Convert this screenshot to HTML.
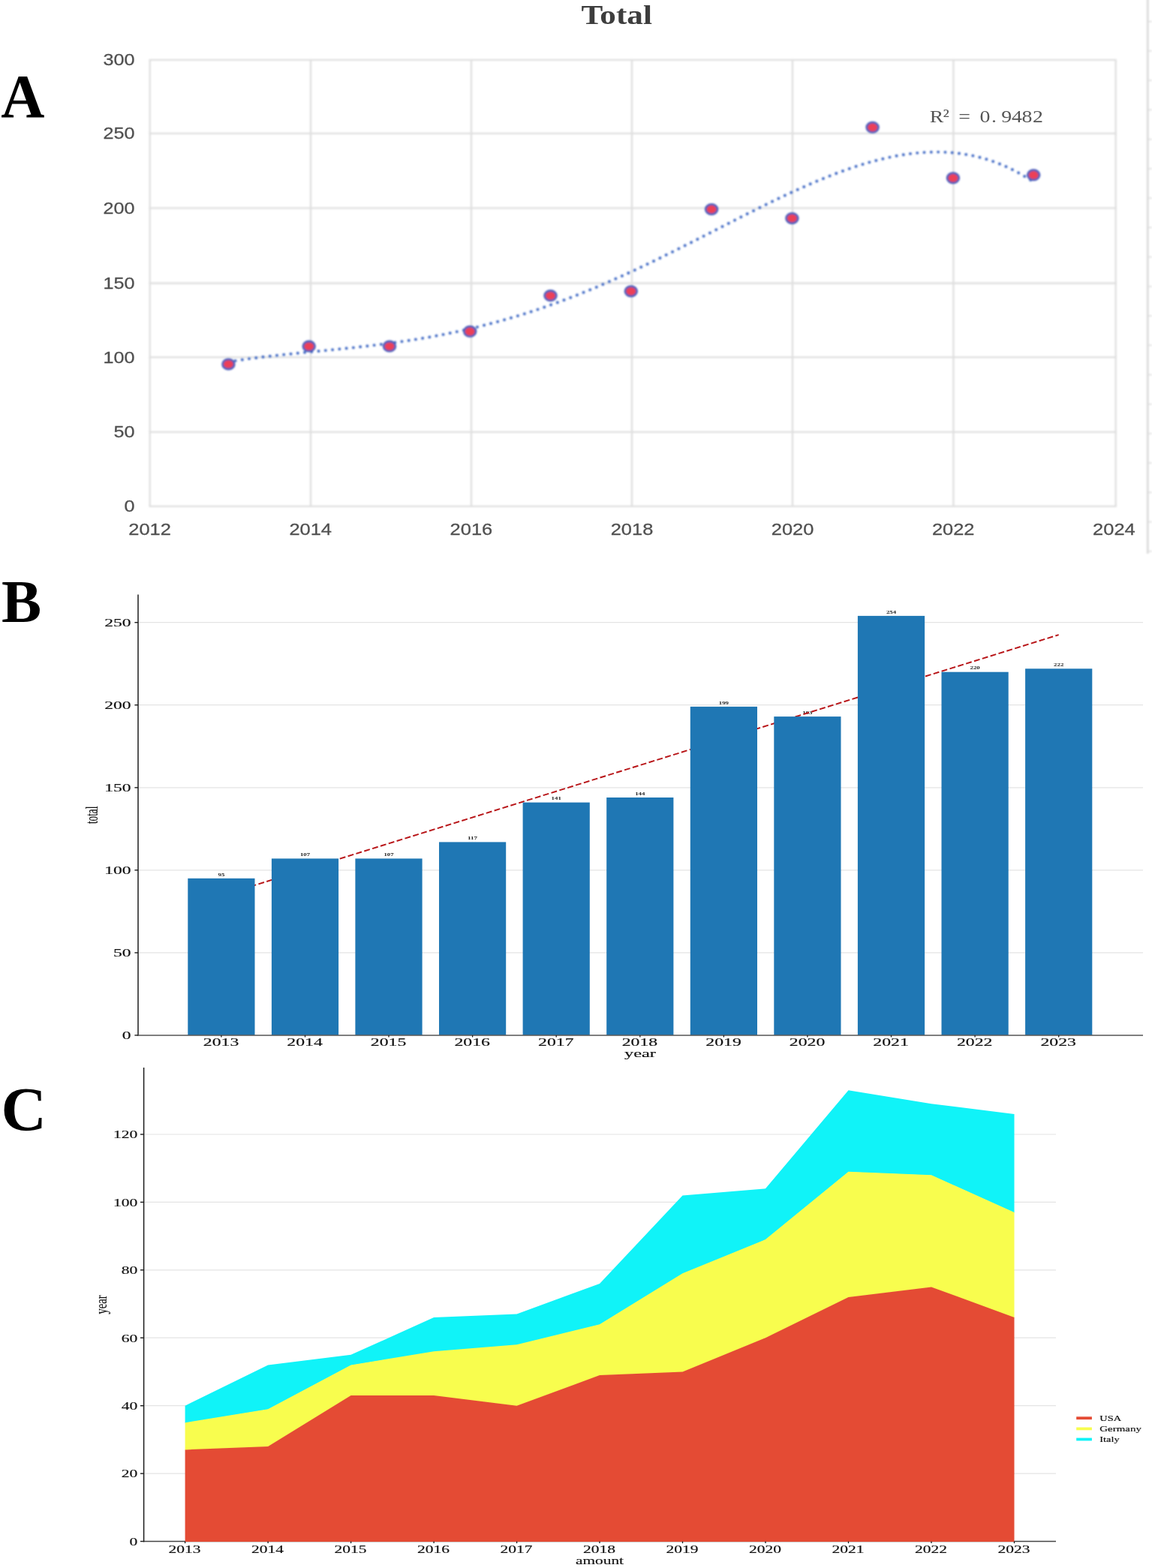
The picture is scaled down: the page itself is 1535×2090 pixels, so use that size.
<!DOCTYPE html>
<html lang="en"><head><meta charset="utf-8"><title>Total</title>
<style>
html,body{margin:0;padding:0;background:#fff;}
body{width:1535px;height:2090px;overflow:hidden;font-family:"Liberation Serif",serif;}
svg{display:block;}
</style></head><body>
<svg width="1535" height="2090" viewBox="0 0 1535 2090">
<defs><filter id="soft1" x="0" y="0" width="1535" height="760" filterUnits="userSpaceOnUse"><feGaussianBlur stdDeviation="0.95"/></filter><filter id="soft2" x="0" y="0" width="1535" height="760" filterUnits="userSpaceOnUse"><feGaussianBlur stdDeviation="0.6"/></filter></defs>
<rect width="1535" height="2090" fill="#fff"/>
<g filter="url(#soft1)">
<g stroke="#dcdcdc" fill="none">
<line x1="1529.3" y1="-5"  x2="1529.3" y2="738" stroke-width="2.8"/>
<line x1="1529" y1="28.7" x2="1535" y2="28.7" stroke-width="1.4"/>
<line x1="1529" y1="67.9" x2="1535" y2="67.9" stroke-width="1.4"/>
<line x1="1529" y1="107.2" x2="1535" y2="107.2" stroke-width="1.4"/>
<line x1="1529" y1="146.4" x2="1535" y2="146.4" stroke-width="1.4"/>
<line x1="1529" y1="185.6" x2="1535" y2="185.6" stroke-width="1.4"/>
<line x1="1529" y1="224.8" x2="1535" y2="224.8" stroke-width="1.4"/>
<line x1="1529" y1="264.1" x2="1535" y2="264.1" stroke-width="1.4"/>
<line x1="1529" y1="303.3" x2="1535" y2="303.3" stroke-width="1.4"/>
<line x1="1529" y1="342.5" x2="1535" y2="342.5" stroke-width="1.4"/>
<line x1="1529" y1="381.8" x2="1535" y2="381.8" stroke-width="1.4"/>
<line x1="1529" y1="421.0" x2="1535" y2="421.0" stroke-width="1.4"/>
<line x1="1529" y1="460.2" x2="1535" y2="460.2" stroke-width="1.4"/>
<line x1="1529" y1="499.5" x2="1535" y2="499.5" stroke-width="1.4"/>
<line x1="1529" y1="538.7" x2="1535" y2="538.7" stroke-width="1.4"/>
<line x1="1529" y1="577.9" x2="1535" y2="577.9" stroke-width="1.4"/>
<line x1="1529" y1="617.1" x2="1535" y2="617.1" stroke-width="1.4"/>
<line x1="1529" y1="656.4" x2="1535" y2="656.4" stroke-width="1.4"/>
<line x1="1529" y1="695.6" x2="1535" y2="695.6" stroke-width="1.4"/>
<line x1="1529" y1="734.8" x2="1535" y2="734.8" stroke-width="1.4"/>
</g>
<g stroke="#dfdfdf" stroke-width="2.3" fill="none">
<line x1="198.6" y1="674.80" x2="1487.8" y2="674.80"/>
<line x1="198.6" y1="575.90" x2="1487.8" y2="575.90"/>
<line x1="198.6" y1="476.10" x2="1487.8" y2="476.10"/>
<line x1="198.6" y1="377.50" x2="1487.8" y2="377.50"/>
<line x1="198.6" y1="277.40" x2="1487.8" y2="277.40"/>
<line x1="198.6" y1="177.80" x2="1487.8" y2="177.80"/>
<line x1="198.6" y1="79.90" x2="1487.8" y2="79.90"/>
<line x1="199.70" y1="79.9" x2="199.70" y2="674.8"/>
<line x1="414.00" y1="79.9" x2="414.00" y2="674.8"/>
<line x1="628.00" y1="79.9" x2="628.00" y2="674.8"/>
<line x1="842.00" y1="79.9" x2="842.00" y2="674.8"/>
<line x1="1056.00" y1="79.9" x2="1056.00" y2="674.8"/>
<line x1="1270.40" y1="79.9" x2="1270.40" y2="674.8"/>
<line x1="1486.70" y1="79.9" x2="1486.70" y2="674.8"/>
</g>
</g>
<g filter="url(#soft2)">
<text x="179.6" y="682.2" font-family="'Liberation Sans', sans-serif" font-size="22.8" font-weight="normal" fill="#505050" text-anchor="end" textLength="14.0" lengthAdjust="spacingAndGlyphs" stroke="#505050" stroke-width="0.3">0</text>
<text x="179.6" y="583.3" font-family="'Liberation Sans', sans-serif" font-size="22.8" font-weight="normal" fill="#505050" text-anchor="end" textLength="28.0" lengthAdjust="spacingAndGlyphs" stroke="#505050" stroke-width="0.3">50</text>
<text x="179.6" y="483.5" font-family="'Liberation Sans', sans-serif" font-size="22.8" font-weight="normal" fill="#505050" text-anchor="end" textLength="42.0" lengthAdjust="spacingAndGlyphs" stroke="#505050" stroke-width="0.3">100</text>
<text x="179.6" y="384.9" font-family="'Liberation Sans', sans-serif" font-size="22.8" font-weight="normal" fill="#505050" text-anchor="end" textLength="42.0" lengthAdjust="spacingAndGlyphs" stroke="#505050" stroke-width="0.3">150</text>
<text x="179.6" y="284.8" font-family="'Liberation Sans', sans-serif" font-size="22.8" font-weight="normal" fill="#505050" text-anchor="end" textLength="42.0" lengthAdjust="spacingAndGlyphs" stroke="#505050" stroke-width="0.3">200</text>
<text x="179.6" y="185.2" font-family="'Liberation Sans', sans-serif" font-size="22.8" font-weight="normal" fill="#505050" text-anchor="end" textLength="42.0" lengthAdjust="spacingAndGlyphs" stroke="#505050" stroke-width="0.3">250</text>
<text x="179.6" y="87.3" font-family="'Liberation Sans', sans-serif" font-size="22.8" font-weight="normal" fill="#505050" text-anchor="end" textLength="42.0" lengthAdjust="spacingAndGlyphs" stroke="#505050" stroke-width="0.3">300</text>
<text x="199.6" y="713.1" font-family="'Liberation Sans', sans-serif" font-size="22.8" font-weight="normal" fill="#505050" text-anchor="middle" textLength="56.6" lengthAdjust="spacingAndGlyphs" stroke="#505050" stroke-width="0.3">2012</text>
<text x="413.7" y="713.1" font-family="'Liberation Sans', sans-serif" font-size="22.8" font-weight="normal" fill="#505050" text-anchor="middle" textLength="56.6" lengthAdjust="spacingAndGlyphs" stroke="#505050" stroke-width="0.3">2014</text>
<text x="627.9" y="713.1" font-family="'Liberation Sans', sans-serif" font-size="22.8" font-weight="normal" fill="#505050" text-anchor="middle" textLength="56.6" lengthAdjust="spacingAndGlyphs" stroke="#505050" stroke-width="0.3">2016</text>
<text x="842.0" y="713.1" font-family="'Liberation Sans', sans-serif" font-size="22.8" font-weight="normal" fill="#505050" text-anchor="middle" textLength="56.6" lengthAdjust="spacingAndGlyphs" stroke="#505050" stroke-width="0.3">2018</text>
<text x="1056.1" y="713.1" font-family="'Liberation Sans', sans-serif" font-size="22.8" font-weight="normal" fill="#505050" text-anchor="middle" textLength="56.6" lengthAdjust="spacingAndGlyphs" stroke="#505050" stroke-width="0.3">2020</text>
<text x="1270.2" y="713.1" font-family="'Liberation Sans', sans-serif" font-size="22.8" font-weight="normal" fill="#505050" text-anchor="middle" textLength="56.6" lengthAdjust="spacingAndGlyphs" stroke="#505050" stroke-width="0.3">2022</text>
<text x="1484.4" y="713.1" font-family="'Liberation Sans', sans-serif" font-size="22.8" font-weight="normal" fill="#505050" text-anchor="middle" textLength="56.6" lengthAdjust="spacingAndGlyphs" stroke="#505050" stroke-width="0.3">2024</text>
<text x="774.5" y="31.7" font-family="'Liberation Serif', serif" font-size="35.6" font-weight="bold" fill="#3c3c3c" text-anchor="start" textLength="94.5" lengthAdjust="spacingAndGlyphs">Total</text>
<g transform="translate(1241,0) scale(1.16,1)"><text x="6.03 16.90 27.16 38.02 49.57 61.64 71.98 86.38 98.19 109.91 122.33" y="163.4" font-family="'Liberation Serif', serif" font-size="24" fill="#555" text-anchor="middle">R² = 0.9482</text></g>
</g>
<g filter="url(#soft1)">
<polyline points="304.4,482.4 308.0,481.8 311.6,481.2 315.2,480.6 318.8,480.1 322.3,479.6 325.9,479.0 329.5,478.5 333.1,478.0 336.7,477.6 340.3,477.1 343.9,476.6 347.5,476.2 351.0,475.7 354.6,475.3 358.2,474.9 361.8,474.5 365.4,474.1 369.0,473.7 372.6,473.3 376.2,472.9 379.7,472.5 383.3,472.1 386.9,471.8 390.5,471.4 394.1,471.0 397.7,470.7 401.3,470.3 404.9,469.9 408.5,469.6 412.0,469.2 415.6,468.9 419.2,468.5 422.8,468.2 426.4,467.8 430.0,467.5 433.6,467.1 437.2,466.8 440.7,466.4 444.3,466.1 447.9,465.7 451.5,465.3 455.1,465.0 458.7,464.6 462.3,464.2 465.9,463.8 469.4,463.5 473.0,463.1 476.6,462.7 480.2,462.3 483.8,461.9 487.4,461.5 491.0,461.1 494.6,460.6 498.1,460.2 501.7,459.8 505.3,459.3 508.9,458.9 512.5,458.4 516.1,457.9 519.7,457.5 523.3,457.0 526.9,456.5 530.4,456.0 534.0,455.4 537.6,454.9 541.2,454.4 544.8,453.8 548.4,453.3 552.0,452.7 555.6,452.1 559.1,451.5 562.7,450.9 566.3,450.3 569.9,449.7 573.5,449.1 577.1,448.4 580.7,447.7 584.3,447.1 587.8,446.4 591.4,445.7 595.0,445.0 598.6,444.2 602.2,443.5 605.8,442.8 609.4,442.0 613.0,441.2 616.6,440.4 620.1,439.6 623.7,438.8 627.3,437.9 630.9,437.1 634.5,436.2 638.1,435.4 641.7,434.5 645.3,433.5 648.8,432.6 652.4,431.7 656.0,430.7 659.6,429.8 663.2,428.8 666.8,427.8 670.4,426.8 674.0,425.8 677.5,424.7 681.1,423.7 684.7,422.6 688.3,421.5 691.9,420.4 695.5,419.3 699.1,418.2 702.7,417.0 706.3,415.9 709.8,414.7 713.4,413.5 717.0,412.3 720.6,411.1 724.2,409.8 727.8,408.6 731.4,407.3 735.0,406.0 738.5,404.7 742.1,403.4 745.7,402.1 749.3,400.8 752.9,399.4 756.5,398.1 760.1,396.7 763.7,395.3 767.2,393.9 770.8,392.5 774.4,391.0 778.0,389.6 781.6,388.1 785.2,386.7 788.8,385.2 792.4,383.7 796.0,382.2 799.5,380.6 803.1,379.1 806.7,377.5 810.3,376.0 813.9,374.4 817.5,372.8 821.1,371.2 824.7,369.6 828.2,368.0 831.8,366.4 835.4,364.7 839.0,363.1 842.6,361.4 846.2,359.8 849.8,358.1 853.4,356.4 856.9,354.7 860.5,353.0 864.1,351.3 867.7,349.5 871.3,347.8 874.9,346.1 878.5,344.3 882.1,342.6 885.6,340.8 889.2,339.0 892.8,337.3 896.4,335.5 900.0,333.7 903.6,331.9 907.2,330.1 910.8,328.3 914.4,326.5 917.9,324.7 921.5,322.9 925.1,321.0 928.7,319.2 932.3,317.4 935.9,315.6 939.5,313.7 943.1,311.9 946.6,310.1 950.2,308.2 953.8,306.4 957.4,304.6 961.0,302.7 964.6,300.9 968.2,299.1 971.8,297.2 975.3,295.4 978.9,293.6 982.5,291.8 986.1,289.9 989.7,288.1 993.3,286.3 996.9,284.5 1000.5,282.7 1004.1,280.9 1007.6,279.1 1011.2,277.3 1014.8,275.5 1018.4,273.8 1022.0,272.0 1025.6,270.3 1029.2,268.5 1032.8,266.8 1036.3,265.0 1039.9,263.3 1043.5,261.6 1047.1,259.9 1050.7,258.3 1054.3,256.6 1057.9,254.9 1061.5,253.3 1065.0,251.7 1068.6,250.1 1072.2,248.5 1075.8,246.9 1079.4,245.3 1083.0,243.8 1086.6,242.2 1090.2,240.7 1093.8,239.2 1097.3,237.8 1100.9,236.3 1104.5,234.9 1108.1,233.5 1111.7,232.1 1115.3,230.7 1118.9,229.4 1122.5,228.1 1126.0,226.8 1129.6,225.5 1133.2,224.3 1136.8,223.1 1140.4,221.9 1144.0,220.7 1147.6,219.6 1151.2,218.5 1154.7,217.4 1158.3,216.4 1161.9,215.4 1165.5,214.4 1169.1,213.5 1172.7,212.5 1176.3,211.7 1179.9,210.8 1183.5,210.0 1187.0,209.3 1190.6,208.5 1194.2,207.8 1197.8,207.2 1201.4,206.6 1205.0,206.0 1208.6,205.5 1212.2,205.0 1215.7,204.5 1219.3,204.1 1222.9,203.8 1226.5,203.5 1230.1,203.2 1233.7,203.0 1237.3,202.8 1240.9,202.7 1244.4,202.6 1248.0,202.6 1251.6,202.6 1255.2,202.7 1258.8,202.8 1262.4,203.0 1266.0,203.3 1269.6,203.6 1273.1,203.9 1276.7,204.3 1280.3,204.8 1283.9,205.3 1287.5,205.9 1291.1,206.5 1294.7,207.2 1298.3,208.0 1301.9,208.8 1305.4,209.7 1309.0,210.7 1312.6,211.7 1316.2,212.8 1319.8,214.0 1323.4,215.2 1327.0,216.5 1330.6,217.9 1334.1,219.3 1337.7,220.8 1341.3,222.4 1344.9,224.1 1348.5,225.8 1352.1,227.7 1355.7,229.6 1359.3,231.5 1362.8,233.6 1366.4,235.7 1370.0,237.9 1373.6,240.2 1377.2,242.6" fill="none" stroke="#3f69c4" stroke-width="3.9" stroke-linecap="round" stroke-dasharray="0.01 9.3"/>
<ellipse cx="304.4" cy="485.4" rx="7.8" ry="6.6" fill="#ec3f58" stroke="#4a5cba" stroke-width="2.8"/>
<ellipse cx="411.7" cy="461.6" rx="7.8" ry="6.6" fill="#ec3f58" stroke="#4a5cba" stroke-width="2.8"/>
<ellipse cx="519.0" cy="461.6" rx="7.8" ry="6.6" fill="#ec3f58" stroke="#4a5cba" stroke-width="2.8"/>
<ellipse cx="626.2" cy="441.8" rx="7.8" ry="6.6" fill="#ec3f58" stroke="#4a5cba" stroke-width="2.8"/>
<ellipse cx="733.5" cy="394.1" rx="7.8" ry="6.6" fill="#ec3f58" stroke="#4a5cba" stroke-width="2.8"/>
<ellipse cx="840.8" cy="388.2" rx="7.8" ry="6.6" fill="#ec3f58" stroke="#4a5cba" stroke-width="2.8"/>
<ellipse cx="948.1" cy="279.0" rx="7.8" ry="6.6" fill="#ec3f58" stroke="#4a5cba" stroke-width="2.8"/>
<ellipse cx="1055.4" cy="290.9" rx="7.8" ry="6.6" fill="#ec3f58" stroke="#4a5cba" stroke-width="2.8"/>
<ellipse cx="1162.6" cy="169.8" rx="7.8" ry="6.6" fill="#ec3f58" stroke="#4a5cba" stroke-width="2.8"/>
<ellipse cx="1269.9" cy="237.3" rx="7.8" ry="6.6" fill="#ec3f58" stroke="#4a5cba" stroke-width="2.8"/>
<ellipse cx="1377.2" cy="233.3" rx="7.8" ry="6.6" fill="#ec3f58" stroke="#4a5cba" stroke-width="2.8"/>
</g>
<text x="1.2" y="156.4" font-family="'Liberation Serif', serif" font-size="82" font-weight="bold" fill="#000" text-anchor="start" textLength="58.2" lengthAdjust="spacingAndGlyphs">A</text>
<text x="2.0" y="828.8" font-family="'Liberation Serif', serif" font-size="81" font-weight="bold" fill="#000" text-anchor="start" textLength="53.2" lengthAdjust="spacingAndGlyphs">B</text>
<text x="1.6" y="1506.4" font-family="'Liberation Serif', serif" font-size="82.5" font-weight="bold" fill="#000" text-anchor="start" textLength="60.4" lengthAdjust="spacingAndGlyphs">C</text>
<line x1="184.0" y1="1269.9" x2="1523" y2="1269.9" stroke="#e4e4e4" stroke-width="1.2"/>
<line x1="184.0" y1="1159.8" x2="1523" y2="1159.8" stroke="#e4e4e4" stroke-width="1.2"/>
<line x1="184.0" y1="1049.8" x2="1523" y2="1049.8" stroke="#e4e4e4" stroke-width="1.2"/>
<line x1="184.0" y1="939.7" x2="1523" y2="939.7" stroke="#e4e4e4" stroke-width="1.2"/>
<line x1="184.0" y1="829.7" x2="1523" y2="829.7" stroke="#e4e4e4" stroke-width="1.2"/>
<text x="294.9" y="1167.5" font-family="'Liberation Serif', serif" font-size="5.6" font-weight="bold" fill="#222" text-anchor="middle" textLength="8.8" lengthAdjust="spacingAndGlyphs">95</text>
<text x="406.5" y="1141.1" font-family="'Liberation Serif', serif" font-size="5.6" font-weight="bold" fill="#222" text-anchor="middle" textLength="13.2" lengthAdjust="spacingAndGlyphs">107</text>
<text x="518.0" y="1141.1" font-family="'Liberation Serif', serif" font-size="5.6" font-weight="bold" fill="#222" text-anchor="middle" textLength="13.2" lengthAdjust="spacingAndGlyphs">107</text>
<text x="629.6" y="1119.1" font-family="'Liberation Serif', serif" font-size="5.6" font-weight="bold" fill="#222" text-anchor="middle" textLength="13.2" lengthAdjust="spacingAndGlyphs">117</text>
<text x="741.2" y="1066.3" font-family="'Liberation Serif', serif" font-size="5.6" font-weight="bold" fill="#222" text-anchor="middle" textLength="13.2" lengthAdjust="spacingAndGlyphs">141</text>
<text x="852.8" y="1059.7" font-family="'Liberation Serif', serif" font-size="5.6" font-weight="bold" fill="#222" text-anchor="middle" textLength="13.2" lengthAdjust="spacingAndGlyphs">144</text>
<text x="964.4" y="938.6" font-family="'Liberation Serif', serif" font-size="5.6" font-weight="bold" fill="#222" text-anchor="middle" textLength="13.2" lengthAdjust="spacingAndGlyphs">199</text>
<text x="1075.9" y="951.8" font-family="'Liberation Serif', serif" font-size="5.6" font-weight="bold" fill="#222" text-anchor="middle" textLength="13.2" lengthAdjust="spacingAndGlyphs">193</text>
<text x="1187.5" y="817.6" font-family="'Liberation Serif', serif" font-size="5.6" font-weight="bold" fill="#222" text-anchor="middle" textLength="13.2" lengthAdjust="spacingAndGlyphs">254</text>
<text x="1299.1" y="892.4" font-family="'Liberation Serif', serif" font-size="5.6" font-weight="bold" fill="#222" text-anchor="middle" textLength="13.2" lengthAdjust="spacingAndGlyphs">220</text>
<text x="1410.7" y="888.0" font-family="'Liberation Serif', serif" font-size="5.6" font-weight="bold" fill="#222" text-anchor="middle" textLength="13.2" lengthAdjust="spacingAndGlyphs">222</text>
<line x1="294.9" y1="1193.8" x2="1410.7" y2="846.1" stroke="#b81518" stroke-width="1.95" stroke-dasharray="7.9 3.45" stroke-dashoffset="4.9"/>
<rect x="250.3" y="1170.8" width="89.2" height="209.1" fill="#1f77b4"/>
<rect x="361.9" y="1144.4" width="89.2" height="235.5" fill="#1f77b4"/>
<rect x="473.4" y="1144.4" width="89.2" height="235.5" fill="#1f77b4"/>
<rect x="585.0" y="1122.4" width="89.2" height="257.5" fill="#1f77b4"/>
<rect x="696.6" y="1069.6" width="89.2" height="310.3" fill="#1f77b4"/>
<rect x="808.2" y="1063.0" width="89.2" height="316.9" fill="#1f77b4"/>
<rect x="919.8" y="941.9" width="89.2" height="438.0" fill="#1f77b4"/>
<rect x="1031.3" y="955.1" width="89.2" height="424.8" fill="#1f77b4"/>
<rect x="1142.9" y="820.9" width="89.2" height="559.0" fill="#1f77b4"/>
<rect x="1254.5" y="895.7" width="89.2" height="484.2" fill="#1f77b4"/>
<rect x="1366.1" y="891.3" width="89.2" height="488.6" fill="#1f77b4"/>
<line x1="184.0" y1="792.4" x2="184.0" y2="1380.6000000000001" stroke="#1c1c1c" stroke-width="1.5"/>
<line x1="183.3" y1="1379.9" x2="1523" y2="1379.9" stroke="#555" stroke-width="1.5"/>
<line x1="179.4" y1="1379.9" x2="184.0" y2="1379.9" stroke="#1c1c1c" stroke-width="1.4"/>
<text x="174.6" y="1385.2" font-family="'Liberation Serif', serif" font-size="14.3" font-weight="normal" fill="#111" text-anchor="end" textLength="11.8" lengthAdjust="spacingAndGlyphs" stroke="#111" stroke-width="0.16">0</text>
<line x1="179.4" y1="1269.9" x2="184.0" y2="1269.9" stroke="#1c1c1c" stroke-width="1.4"/>
<text x="174.6" y="1275.2" font-family="'Liberation Serif', serif" font-size="14.3" font-weight="normal" fill="#111" text-anchor="end" textLength="23.6" lengthAdjust="spacingAndGlyphs" stroke="#111" stroke-width="0.16">50</text>
<line x1="179.4" y1="1159.8" x2="184.0" y2="1159.8" stroke="#1c1c1c" stroke-width="1.4"/>
<text x="174.6" y="1165.1" font-family="'Liberation Serif', serif" font-size="14.3" font-weight="normal" fill="#111" text-anchor="end" textLength="35.4" lengthAdjust="spacingAndGlyphs" stroke="#111" stroke-width="0.16">100</text>
<line x1="179.4" y1="1049.8" x2="184.0" y2="1049.8" stroke="#1c1c1c" stroke-width="1.4"/>
<text x="174.6" y="1055.1" font-family="'Liberation Serif', serif" font-size="14.3" font-weight="normal" fill="#111" text-anchor="end" textLength="35.4" lengthAdjust="spacingAndGlyphs" stroke="#111" stroke-width="0.16">150</text>
<line x1="179.4" y1="939.7" x2="184.0" y2="939.7" stroke="#1c1c1c" stroke-width="1.4"/>
<text x="174.6" y="945.0" font-family="'Liberation Serif', serif" font-size="14.3" font-weight="normal" fill="#111" text-anchor="end" textLength="35.4" lengthAdjust="spacingAndGlyphs" stroke="#111" stroke-width="0.16">200</text>
<line x1="179.4" y1="829.7" x2="184.0" y2="829.7" stroke="#1c1c1c" stroke-width="1.4"/>
<text x="174.6" y="835.0" font-family="'Liberation Serif', serif" font-size="14.3" font-weight="normal" fill="#111" text-anchor="end" textLength="35.4" lengthAdjust="spacingAndGlyphs" stroke="#111" stroke-width="0.16">250</text>
<line x1="294.9" y1="1379.9" x2="294.9" y2="1382.5" stroke="#1c1c1c" stroke-width="1.3"/>
<text x="294.5" y="1394.2" font-family="'Liberation Serif', serif" font-size="14.4" font-weight="normal" fill="#111" text-anchor="middle" textLength="47.5" lengthAdjust="spacingAndGlyphs" stroke="#111" stroke-width="0.16">2013</text>
<line x1="406.5" y1="1379.9" x2="406.5" y2="1382.5" stroke="#1c1c1c" stroke-width="1.3"/>
<text x="406.1" y="1394.2" font-family="'Liberation Serif', serif" font-size="14.4" font-weight="normal" fill="#111" text-anchor="middle" textLength="47.5" lengthAdjust="spacingAndGlyphs" stroke="#111" stroke-width="0.16">2014</text>
<line x1="518.0" y1="1379.9" x2="518.0" y2="1382.5" stroke="#1c1c1c" stroke-width="1.3"/>
<text x="517.6" y="1394.2" font-family="'Liberation Serif', serif" font-size="14.4" font-weight="normal" fill="#111" text-anchor="middle" textLength="47.5" lengthAdjust="spacingAndGlyphs" stroke="#111" stroke-width="0.16">2015</text>
<line x1="629.6" y1="1379.9" x2="629.6" y2="1382.5" stroke="#1c1c1c" stroke-width="1.3"/>
<text x="629.2" y="1394.2" font-family="'Liberation Serif', serif" font-size="14.4" font-weight="normal" fill="#111" text-anchor="middle" textLength="47.5" lengthAdjust="spacingAndGlyphs" stroke="#111" stroke-width="0.16">2016</text>
<line x1="741.2" y1="1379.9" x2="741.2" y2="1382.5" stroke="#1c1c1c" stroke-width="1.3"/>
<text x="740.8" y="1394.2" font-family="'Liberation Serif', serif" font-size="14.4" font-weight="normal" fill="#111" text-anchor="middle" textLength="47.5" lengthAdjust="spacingAndGlyphs" stroke="#111" stroke-width="0.16">2017</text>
<line x1="852.8" y1="1379.9" x2="852.8" y2="1382.5" stroke="#1c1c1c" stroke-width="1.3"/>
<text x="852.4" y="1394.2" font-family="'Liberation Serif', serif" font-size="14.4" font-weight="normal" fill="#111" text-anchor="middle" textLength="47.5" lengthAdjust="spacingAndGlyphs" stroke="#111" stroke-width="0.16">2018</text>
<line x1="964.4" y1="1379.9" x2="964.4" y2="1382.5" stroke="#1c1c1c" stroke-width="1.3"/>
<text x="964.0" y="1394.2" font-family="'Liberation Serif', serif" font-size="14.4" font-weight="normal" fill="#111" text-anchor="middle" textLength="47.5" lengthAdjust="spacingAndGlyphs" stroke="#111" stroke-width="0.16">2019</text>
<line x1="1075.9" y1="1379.9" x2="1075.9" y2="1382.5" stroke="#1c1c1c" stroke-width="1.3"/>
<text x="1075.5" y="1394.2" font-family="'Liberation Serif', serif" font-size="14.4" font-weight="normal" fill="#111" text-anchor="middle" textLength="47.5" lengthAdjust="spacingAndGlyphs" stroke="#111" stroke-width="0.16">2020</text>
<line x1="1187.5" y1="1379.9" x2="1187.5" y2="1382.5" stroke="#1c1c1c" stroke-width="1.3"/>
<text x="1187.1" y="1394.2" font-family="'Liberation Serif', serif" font-size="14.4" font-weight="normal" fill="#111" text-anchor="middle" textLength="47.5" lengthAdjust="spacingAndGlyphs" stroke="#111" stroke-width="0.16">2021</text>
<line x1="1299.1" y1="1379.9" x2="1299.1" y2="1382.5" stroke="#1c1c1c" stroke-width="1.3"/>
<text x="1298.7" y="1394.2" font-family="'Liberation Serif', serif" font-size="14.4" font-weight="normal" fill="#111" text-anchor="middle" textLength="47.5" lengthAdjust="spacingAndGlyphs" stroke="#111" stroke-width="0.16">2022</text>
<line x1="1410.7" y1="1379.9" x2="1410.7" y2="1382.5" stroke="#1c1c1c" stroke-width="1.3"/>
<text x="1410.2" y="1394.2" font-family="'Liberation Serif', serif" font-size="14.4" font-weight="normal" fill="#111" text-anchor="middle" textLength="47.5" lengthAdjust="spacingAndGlyphs" stroke="#111" stroke-width="0.16">2023</text>
<text x="853" y="1408.9" font-family="'Liberation Serif', serif" font-size="14.6" font-weight="normal" fill="#111" text-anchor="middle" textLength="42" lengthAdjust="spacingAndGlyphs" stroke="#111" stroke-width="0.16">year</text>
<g transform="translate(129.6,1086.4) rotate(-90)">
<text x="0" y="0" font-family="'Liberation Serif', serif" font-size="23.5" font-weight="normal" fill="#111" text-anchor="middle" textLength="23.4" lengthAdjust="spacingAndGlyphs" stroke="#111" stroke-width="0.16">total</text>
</g>
<line x1="191.6" y1="1964.1" x2="1407" y2="1964.1" stroke="#e4e4e4" stroke-width="1.2"/>
<line x1="191.6" y1="1873.7" x2="1407" y2="1873.7" stroke="#e4e4e4" stroke-width="1.2"/>
<line x1="191.6" y1="1783.2" x2="1407" y2="1783.2" stroke="#e4e4e4" stroke-width="1.2"/>
<line x1="191.6" y1="1692.8" x2="1407" y2="1692.8" stroke="#e4e4e4" stroke-width="1.2"/>
<line x1="191.6" y1="1602.4" x2="1407" y2="1602.4" stroke="#e4e4e4" stroke-width="1.2"/>
<line x1="191.6" y1="1512.0" x2="1407" y2="1512.0" stroke="#e4e4e4" stroke-width="1.2"/>
<line x1="190.9" y1="2054.5" x2="1407" y2="2054.5" stroke="#444" stroke-width="1.4"/>
<polygon points="246.6,1873.7 357.1,1819.4 467.6,1805.8 578.1,1756.1 688.6,1751.6 799.0,1710.9 909.5,1593.4 1020.0,1584.3 1130.5,1453.2 1241.0,1471.3 1351.5,1484.9 1351.5,1616.6 1241.0,1566.8 1130.5,1562.3 1020.0,1652.7 909.5,1697.9 799.0,1765.8 688.6,1792.9 578.1,1801.9 467.6,1820.0 357.1,1878.8 246.6,1896.9" fill="#10f3f8"/>
<polygon points="246.6,1896.3 357.1,1878.2 467.6,1819.4 578.1,1801.3 688.6,1792.3 799.0,1765.2 909.5,1697.3 1020.0,1652.1 1130.5,1561.7 1241.0,1566.2 1351.5,1616.0 1351.5,1756.7 1241.0,1716.0 1130.5,1729.6 1020.0,1783.8 909.5,1829.0 799.0,1833.6 688.6,1874.3 578.1,1860.7 467.6,1860.7 357.1,1928.5 246.6,1933.0" fill="#f8fd4e"/>
<polygon points="246.6,1932.4 357.1,1927.9 467.6,1860.1 578.1,1860.1 688.6,1873.7 799.0,1833.0 909.5,1828.5 1020.0,1783.2 1130.5,1729.0 1241.0,1715.4 1351.5,1756.1 1351.5,2054.9 1241.0,2054.9 1130.5,2054.9 1020.0,2054.9 909.5,2054.9 799.0,2054.9 688.6,2054.9 578.1,2054.9 467.6,2054.9 357.1,2054.9 246.6,2054.9" fill="#e44b34"/>
<line x1="191.6" y1="1423.0" x2="191.6" y2="2055.2" stroke="#1c1c1c" stroke-width="1.5"/>
<line x1="187.0" y1="2054.5" x2="191.6" y2="2054.5" stroke="#1c1c1c" stroke-width="1.4"/>
<text x="183.3" y="2059.8" font-family="'Liberation Serif', serif" font-size="14.3" font-weight="normal" fill="#111" text-anchor="end" textLength="10.8" lengthAdjust="spacingAndGlyphs" stroke="#111" stroke-width="0.16">0</text>
<line x1="187.0" y1="1964.1" x2="191.6" y2="1964.1" stroke="#1c1c1c" stroke-width="1.4"/>
<text x="183.3" y="1969.4" font-family="'Liberation Serif', serif" font-size="14.3" font-weight="normal" fill="#111" text-anchor="end" textLength="21.6" lengthAdjust="spacingAndGlyphs" stroke="#111" stroke-width="0.16">20</text>
<line x1="187.0" y1="1873.7" x2="191.6" y2="1873.7" stroke="#1c1c1c" stroke-width="1.4"/>
<text x="183.3" y="1879.0" font-family="'Liberation Serif', serif" font-size="14.3" font-weight="normal" fill="#111" text-anchor="end" textLength="21.6" lengthAdjust="spacingAndGlyphs" stroke="#111" stroke-width="0.16">40</text>
<line x1="187.0" y1="1783.2" x2="191.6" y2="1783.2" stroke="#1c1c1c" stroke-width="1.4"/>
<text x="183.3" y="1788.5" font-family="'Liberation Serif', serif" font-size="14.3" font-weight="normal" fill="#111" text-anchor="end" textLength="21.6" lengthAdjust="spacingAndGlyphs" stroke="#111" stroke-width="0.16">60</text>
<line x1="187.0" y1="1692.8" x2="191.6" y2="1692.8" stroke="#1c1c1c" stroke-width="1.4"/>
<text x="183.3" y="1698.1" font-family="'Liberation Serif', serif" font-size="14.3" font-weight="normal" fill="#111" text-anchor="end" textLength="21.6" lengthAdjust="spacingAndGlyphs" stroke="#111" stroke-width="0.16">80</text>
<line x1="187.0" y1="1602.4" x2="191.6" y2="1602.4" stroke="#1c1c1c" stroke-width="1.4"/>
<text x="183.3" y="1607.7" font-family="'Liberation Serif', serif" font-size="14.3" font-weight="normal" fill="#111" text-anchor="end" textLength="32.4" lengthAdjust="spacingAndGlyphs" stroke="#111" stroke-width="0.16">100</text>
<line x1="187.0" y1="1512.0" x2="191.6" y2="1512.0" stroke="#1c1c1c" stroke-width="1.4"/>
<text x="183.3" y="1517.3" font-family="'Liberation Serif', serif" font-size="14.3" font-weight="normal" fill="#111" text-anchor="end" textLength="32.4" lengthAdjust="spacingAndGlyphs" stroke="#111" stroke-width="0.16">120</text>
<line x1="246.6" y1="2054.5" x2="246.6" y2="2057.1" stroke="#1c1c1c" stroke-width="1.3"/>
<text x="246.0" y="2069.5" font-family="'Liberation Serif', serif" font-size="14.3" font-weight="normal" fill="#111" text-anchor="middle" textLength="43" lengthAdjust="spacingAndGlyphs" stroke="#111" stroke-width="0.16">2013</text>
<line x1="357.1" y1="2054.5" x2="357.1" y2="2057.1" stroke="#1c1c1c" stroke-width="1.3"/>
<text x="356.5" y="2069.5" font-family="'Liberation Serif', serif" font-size="14.3" font-weight="normal" fill="#111" text-anchor="middle" textLength="43" lengthAdjust="spacingAndGlyphs" stroke="#111" stroke-width="0.16">2014</text>
<line x1="467.6" y1="2054.5" x2="467.6" y2="2057.1" stroke="#1c1c1c" stroke-width="1.3"/>
<text x="467.0" y="2069.5" font-family="'Liberation Serif', serif" font-size="14.3" font-weight="normal" fill="#111" text-anchor="middle" textLength="43" lengthAdjust="spacingAndGlyphs" stroke="#111" stroke-width="0.16">2015</text>
<line x1="578.1" y1="2054.5" x2="578.1" y2="2057.1" stroke="#1c1c1c" stroke-width="1.3"/>
<text x="577.5" y="2069.5" font-family="'Liberation Serif', serif" font-size="14.3" font-weight="normal" fill="#111" text-anchor="middle" textLength="43" lengthAdjust="spacingAndGlyphs" stroke="#111" stroke-width="0.16">2016</text>
<line x1="688.6" y1="2054.5" x2="688.6" y2="2057.1" stroke="#1c1c1c" stroke-width="1.3"/>
<text x="688.0" y="2069.5" font-family="'Liberation Serif', serif" font-size="14.3" font-weight="normal" fill="#111" text-anchor="middle" textLength="43" lengthAdjust="spacingAndGlyphs" stroke="#111" stroke-width="0.16">2017</text>
<line x1="799.0" y1="2054.5" x2="799.0" y2="2057.1" stroke="#1c1c1c" stroke-width="1.3"/>
<text x="798.4" y="2069.5" font-family="'Liberation Serif', serif" font-size="14.3" font-weight="normal" fill="#111" text-anchor="middle" textLength="43" lengthAdjust="spacingAndGlyphs" stroke="#111" stroke-width="0.16">2018</text>
<line x1="909.5" y1="2054.5" x2="909.5" y2="2057.1" stroke="#1c1c1c" stroke-width="1.3"/>
<text x="908.9" y="2069.5" font-family="'Liberation Serif', serif" font-size="14.3" font-weight="normal" fill="#111" text-anchor="middle" textLength="43" lengthAdjust="spacingAndGlyphs" stroke="#111" stroke-width="0.16">2019</text>
<line x1="1020.0" y1="2054.5" x2="1020.0" y2="2057.1" stroke="#1c1c1c" stroke-width="1.3"/>
<text x="1019.4" y="2069.5" font-family="'Liberation Serif', serif" font-size="14.3" font-weight="normal" fill="#111" text-anchor="middle" textLength="43" lengthAdjust="spacingAndGlyphs" stroke="#111" stroke-width="0.16">2020</text>
<line x1="1130.5" y1="2054.5" x2="1130.5" y2="2057.1" stroke="#1c1c1c" stroke-width="1.3"/>
<text x="1129.9" y="2069.5" font-family="'Liberation Serif', serif" font-size="14.3" font-weight="normal" fill="#111" text-anchor="middle" textLength="43" lengthAdjust="spacingAndGlyphs" stroke="#111" stroke-width="0.16">2021</text>
<line x1="1241.0" y1="2054.5" x2="1241.0" y2="2057.1" stroke="#1c1c1c" stroke-width="1.3"/>
<text x="1240.4" y="2069.5" font-family="'Liberation Serif', serif" font-size="14.3" font-weight="normal" fill="#111" text-anchor="middle" textLength="43" lengthAdjust="spacingAndGlyphs" stroke="#111" stroke-width="0.16">2022</text>
<line x1="1351.5" y1="2054.5" x2="1351.5" y2="2057.1" stroke="#1c1c1c" stroke-width="1.3"/>
<text x="1350.9" y="2069.5" font-family="'Liberation Serif', serif" font-size="14.3" font-weight="normal" fill="#111" text-anchor="middle" textLength="43" lengthAdjust="spacingAndGlyphs" stroke="#111" stroke-width="0.16">2023</text>
<text x="799" y="2085.4" font-family="'Liberation Serif', serif" font-size="14.6" font-weight="normal" fill="#111" text-anchor="middle" textLength="64" lengthAdjust="spacingAndGlyphs" stroke="#111" stroke-width="0.16">amount</text>
<g transform="translate(141.6,1739) rotate(-90)">
<text x="0" y="0" font-family="'Liberation Serif', serif" font-size="21" font-weight="normal" fill="#111" text-anchor="middle" textLength="25" lengthAdjust="spacingAndGlyphs" stroke="#111" stroke-width="0.16">year</text>
</g>
<rect x="1434.2" y="1888.3" width="20.7" height="3.8" fill="#e44b34"/>
<text x="1465.3" y="1894.0" font-family="'Liberation Serif', serif" font-size="10.6" font-weight="normal" fill="#111" text-anchor="start" textLength="28.7" lengthAdjust="spacingAndGlyphs" stroke="#111" stroke-width="0.16">USA</text>
<rect x="1434.2" y="1902.5" width="20.7" height="3.8" fill="#f8fd4e"/>
<text x="1465.3" y="1908.2" font-family="'Liberation Serif', serif" font-size="10.6" font-weight="normal" fill="#111" text-anchor="start" textLength="55.6" lengthAdjust="spacingAndGlyphs" stroke="#111" stroke-width="0.16">Germany</text>
<rect x="1434.2" y="1916.6" width="20.7" height="3.8" fill="#10f3f8"/>
<text x="1465.3" y="1922.3" font-family="'Liberation Serif', serif" font-size="10.6" font-weight="normal" fill="#111" text-anchor="start" textLength="26.3" lengthAdjust="spacingAndGlyphs" stroke="#111" stroke-width="0.16">Italy</text>
</svg>
</body></html>
